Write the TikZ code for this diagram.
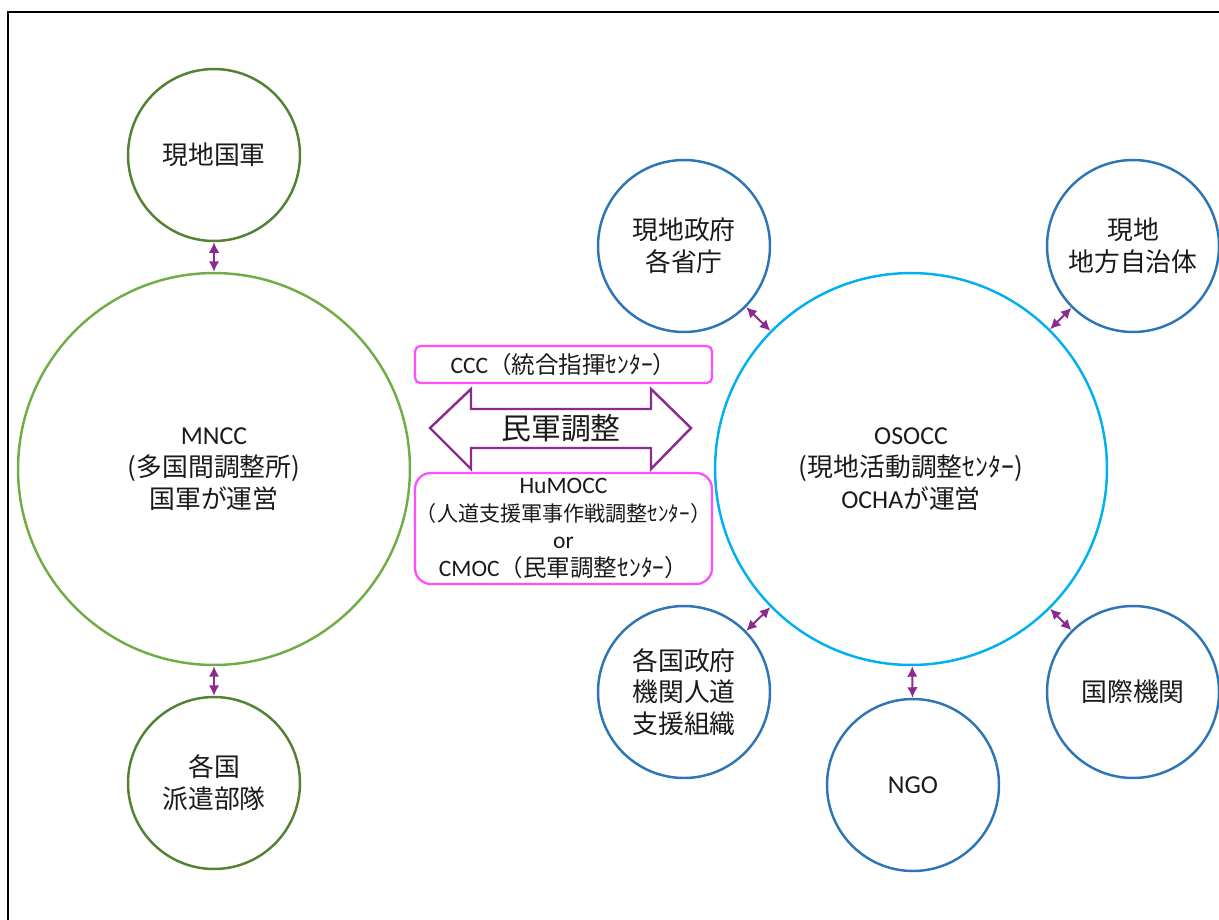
\documentclass[tikz,border=0pt]{standalone}
\usepackage{fontspec}
\setmainfont{Carlito}
\newfontfamily\jp{Noto Sans CJK JP}
\usetikzlibrary{arrows.meta}
\definecolor{dgreen}{HTML}{548235}
\definecolor{lgreen}{HTML}{70AD47}
\definecolor{dblue}{HTML}{2E75B6}
\definecolor{lblue}{HTML}{00B0F0}
\definecolor{boxpink}{HTML}{FF4DFF}
\definecolor{arrpurple}{HTML}{8B2A8F}
\definecolor{txt}{HTML}{1A1A1A}
\tikzset{
	unit/.style={circle, draw=dblue, line width=1.4pt, minimum size=3.44cm, inner sep=0pt,
		align=center, text=txt, font=\fontsize{14.7}{18.1}\selectfont},
	bigunit/.style={unit, minimum size=7.84cm},
	link/.style={arrpurple, line width=1.1pt, {Latex[length=6pt,width=6pt]}-{Latex[length=6pt,width=6pt]}},
	centre/.style={rectangle, draw=boxpink, line width=1.3pt, minimum width=5.94cm, inner sep=0pt,
		align=center, text=txt, font=\fontsize{13.4}{15.9}\selectfont}
}

\begin{document}
\begin{tikzpicture}[x=0.02cm, y=-0.02cm]
		%%%%% START %%%%%
		\useasboundingbox (0,0) rectangle (1219,919);
		
		\draw[line width=1.2pt] (8,940) -- (8,12) -- (1240,12);
		
		% military side
		\node[unit, draw=dgreen] (army) at (214,155) {\jp 現地国軍};
		\node[bigunit, draw=lgreen] (mncc) at (214,469) {MNCC\\{\jp (多国間調整所)}\\{\jp 国軍が運営}};
		\node[unit, draw=dgreen] (troops) at (214,783) {{\jp 各国}\\{\jp 派遣部隊}};
		
		% humanitarian side
		\node[bigunit, draw=lblue] (osocc) at (911,469) {OSOCC\\{\jp (現地活動調整ｾﾝﾀｰ)}\\OCHA{\jp が運営}};
		\node[unit] (gov) at (684,246) {{\jp 現地政府}\\{\jp 各省庁}};
		\node[unit] (local) at (1133,246) {{\jp 現地}\\{\jp 地方自治体}};
		\node[unit] (aid) at (684,692) {{\jp 各国政府}\\{\jp 機関人道}\\{\jp 支援組織}};
		\node[unit] (ngo) at (913,785) {NGO};
		\node[unit] (intl) at (1133,692) {\jp 国際機関};
		
		\draw[link] (army) -- (mncc);
		\draw[link] (mncc) -- (troops);
		\draw[link] (gov) -- (osocc);
		\draw[link] (local) -- (osocc);
		\draw[link] (aid) -- (osocc);
		\draw[link] (ngo) -- (osocc);
		\draw[link] (intl) -- (osocc);
		
		% coordination centres
		\node[centre, rounded corners=3pt, minimum height=0.74cm] (ccc) at (563.5,364.5)
			{CCC{\jp （統合指揮ｾﾝﾀｰ）}};
		\node[centre, rounded corners=9pt, minimum height=2.22cm] (humocc) at (563.5,528.5)
			{HuMOCC\\{\fontsize{12}{13.6}\selectfont\jp （人道支援軍事作戦調整ｾﾝﾀｰ）}\\or\\CMOC{\jp （民軍調整ｾﾝﾀｰ）}};
		
		\draw[arrpurple, line width=1.4pt, line join=miter] (430,428) -- (471,389) -- (471,409) -- (651,409)
			-- (651,389) -- (691,428) -- (651,469) -- (651,448) -- (471,448) -- (471,469) -- cycle;
		\node[text=txt, font=\fontsize{17}{20}\selectfont] (civmil) at (561,428) {\jp 民軍調整};
		%%%%% END %%%%%
\end{tikzpicture}
\end{document}
